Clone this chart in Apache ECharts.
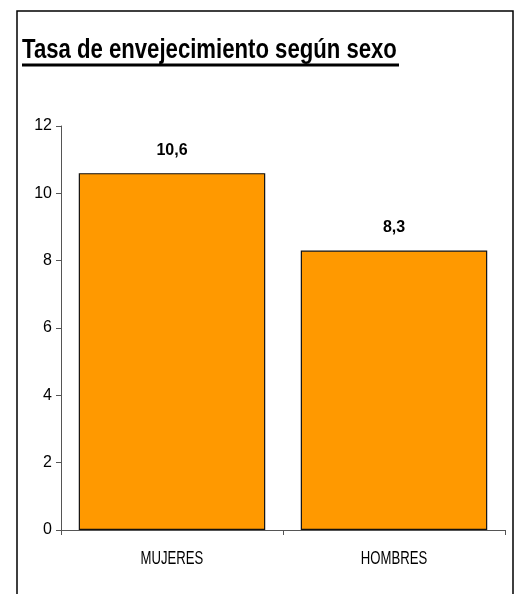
<!DOCTYPE html>
<html><head><meta charset="utf-8">
<script src="https://cdn.jsdelivr.net/npm/echarts@6/dist/echarts.min.js"></script>
<style>html,body{margin:0;padding:0;background:#fff}#c{width:520px;height:594px}</style>
</head><body><div id="c"></div>
<script>
const titleText = 'Tasa de envejecimiento según sexo';
const categories = ['MUJERES', 'HOMBRES'];
const values = [10.6, 8.3];
const labels = ['10,6', '8,3'];
const yTicks = [0, 2, 4, 6, 8, 10, 12];

const font = 'Liberation Sans, Arial, sans-serif';
const chart = echarts.init(document.getElementById('c'));
chart.setOption({
  animation: false,
  grid: { left: 61, right: 15, top: 126, bottom: 64 },
  xAxis: {
    type: 'category', data: categories,
    axisLine: { lineStyle: { color: '#555', width: 1 } },
    axisTick: { show: true, length: 5, lineStyle: { color: '#555' } },
    axisLabel: { show: false }
  },
  yAxis: {
    type: 'value', min: 0, max: 12, interval: 2,
    axisLine: { show: true, lineStyle: { color: '#555', width: 1 } },
    axisTick: { show: true, length: 5, lineStyle: { color: '#555' } },
    splitLine: { show: false },
    axisLabel: {
      fontFamily: font, fontSize: 16, color: '#000', margin: 9,
      formatter: v => yTicks.includes(v) ? String(v) : ''
    }
  },
  series: [{
    type: 'bar', data: values, barCategoryGap: '16%',
    itemStyle: { color: '#FF9900', borderColor: '#111', borderWidth: 1.2 },
    label: {
      show: true, position: 'top', distance: 15,
      formatter: p => labels[p.dataIndex],
      fontFamily: font, fontSize: 16, fontWeight: 'bold', color: '#000'
    }
  }]
});

// Frame, condensed title with underline, condensed category labels (positioned via the axis scale)
const graphics = [
  { type: 'rect', shape: { x: 17, y: 11, width: 496, height: 620 }, style: { fill: 'none', stroke: '#000', lineWidth: 1.5 }, silent: true },
  { type: 'text', x: 22, y: 37, scaleX: 0.82, silent: true,
    style: { text: titleText, font: 'bold 27px ' + font, fill: '#000', verticalAlign: 'top', align: 'left' } },
  { type: 'line', shape: { x1: 22, y1: 65, x2: 399, y2: 65 }, style: { stroke: '#000', lineWidth: 3 }, silent: true }
];
const baseY = chart.convertToPixel({ yAxisIndex: 0 }, 0);
categories.forEach((c, i) => {
  const px = chart.convertToPixel({ xAxisIndex: 0 }, c);
  graphics.push({ type: 'text', x: px, y: baseY + 29, scaleX: 0.71, silent: true,
    style: { text: c, font: '18.5px ' + font, fill: '#000', align: 'center', verticalAlign: 'middle' } });
});
chart.setOption({ graphic: graphics });
</script></body></html>
